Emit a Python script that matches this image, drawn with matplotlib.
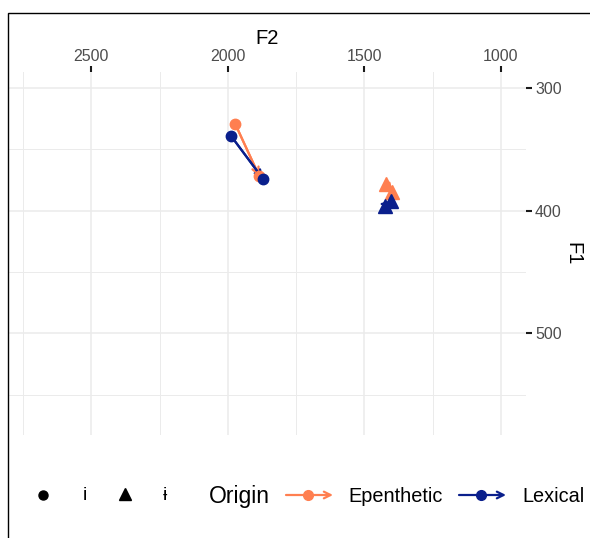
import numpy as np
import matplotlib.pyplot as plt
from matplotlib.patches import Rectangle

plt.rcParams['font.family'] = ['Liberation Sans', 'DejaVu Sans']

# formant trajectories: start -> end for each vowel and origin
vowels = ["i", "ɨ"]
origins = ["Epenthetic", "Lexical"]
f2_start = {"Epenthetic": [1974, 1421], "Lexical": [1989, 1425]}
f2_end = {"Epenthetic": [1885, 1399], "Lexical": [1872, 1403]}
f1_start = {"Epenthetic": [329, 378], "Lexical": [339, 396]}
f1_end = {"Epenthetic": [372, 385], "Lexical": [374, 392]}

colors = {"Epenthetic": "#FF7F50", "Lexical": "#0A1F8C"}
shapes = {"i": "o", "ɨ": "^"}
sizes = {"i": 7.5, "ɨ": 10}

W, H = 590, 538
fig = plt.figure(figsize=(W / 100, H / 100), dpi=100)

ax = fig.add_axes([9 / W, 1 - 435 / H, (526 - 9) / W, (435 - 72) / H])
ax.set_xlim(2802, 908)
ax.set_ylim(583, 287)

for org in origins:
    c = colors[org]
    for k, v in enumerate(vowels):
        xs = [f2_start[org][k], f2_end[org][k]]
        ys = [f1_start[org][k], f1_end[org][k]]
        ax.plot(xs, ys, color=c, lw=1.6, zorder=3)
        ax.annotate("", xy=(xs[1], ys[1]), xytext=(xs[0], ys[0]),
                    arrowprops=dict(arrowstyle="->", color=c, lw=1.6,
                                    shrinkA=0, shrinkB=0,
                                    mutation_scale=12), zorder=3)
        ax.plot(xs, ys, ls="none", marker=shapes[v], ms=sizes[v],
                color=c, mec=c, zorder=4)

ax.xaxis.tick_top()
ax.xaxis.set_label_position("top")
ax.yaxis.tick_right()
ax.yaxis.set_label_position("right")
ax.set_xticks([2500, 2000, 1500, 1000])
ax.set_xticks([2750, 2250, 1750, 1250], minor=True)
ax.set_yticks([300, 400, 500])
ax.set_yticks([350, 450, 550], minor=True)
ax.grid(which="major", color="#EBEBEB", lw=1.1)
ax.grid(which="minor", color="#EBEBEB", lw=0.7)
ax.set_axisbelow(True)
for s in ax.spines.values():
    s.set_visible(False)
ax.tick_params(which="major", length=4, width=1.5, color="#1a1a1a",
               labelsize=11.5, labelcolor="#4D4D4D", pad=2.5)
ax.tick_params(axis="x", which="major", pad=1.5)
ax.tick_params(which="minor", length=0)
ax.set_xlabel("F2", fontsize=14.5, labelpad=4)
ax.set_ylabel("F1", fontsize=14.5, rotation=270, labelpad=15)

# legend drawn on an overlay axes in pixel units
lg = fig.add_axes([0, 0, 1, 1], facecolor="none")
lg.set_xlim(0, W)
lg.set_ylim(H, 0)
lg.axis("off")
ly = 495
lg.plot(43, ly, marker="o", ms=6.5, color="black")
lg.text(85, ly + 1, "i", fontsize=14, ha="center", va="center")
lg.plot(125, ly - 1, marker="^", ms=8.5, color="black")
lg.text(165, ly + 1, "ɨ", fontsize=14, ha="center", va="center")
lg.text(209, ly + 1, "Origin", fontsize=16.5, ha="left", va="center")
for org, x0, tx in [("Epenthetic", 286, 348), ("Lexical", 459, 522)]:
    c = colors[org]
    lg.annotate("", xy=(x0 + 47, ly), xytext=(x0, ly),
                arrowprops=dict(arrowstyle="->", color=c, lw=1.6,
                                shrinkA=0, shrinkB=0, mutation_scale=12))
    lg.plot(x0 + 22, ly, marker="o", ms=7, color=c)
    lg.text(tx, ly + 1, org, fontsize=14.3, ha="left", va="center")

fig.add_artist(Rectangle((8 / W, -0.1), 1.0, 1 - 13 / H + 0.1,
                         transform=fig.transFigure, fill=False,
                         lw=1.0, ec="black", clip_on=False))

fig.savefig("out.png", dpi=100, facecolor="white")
